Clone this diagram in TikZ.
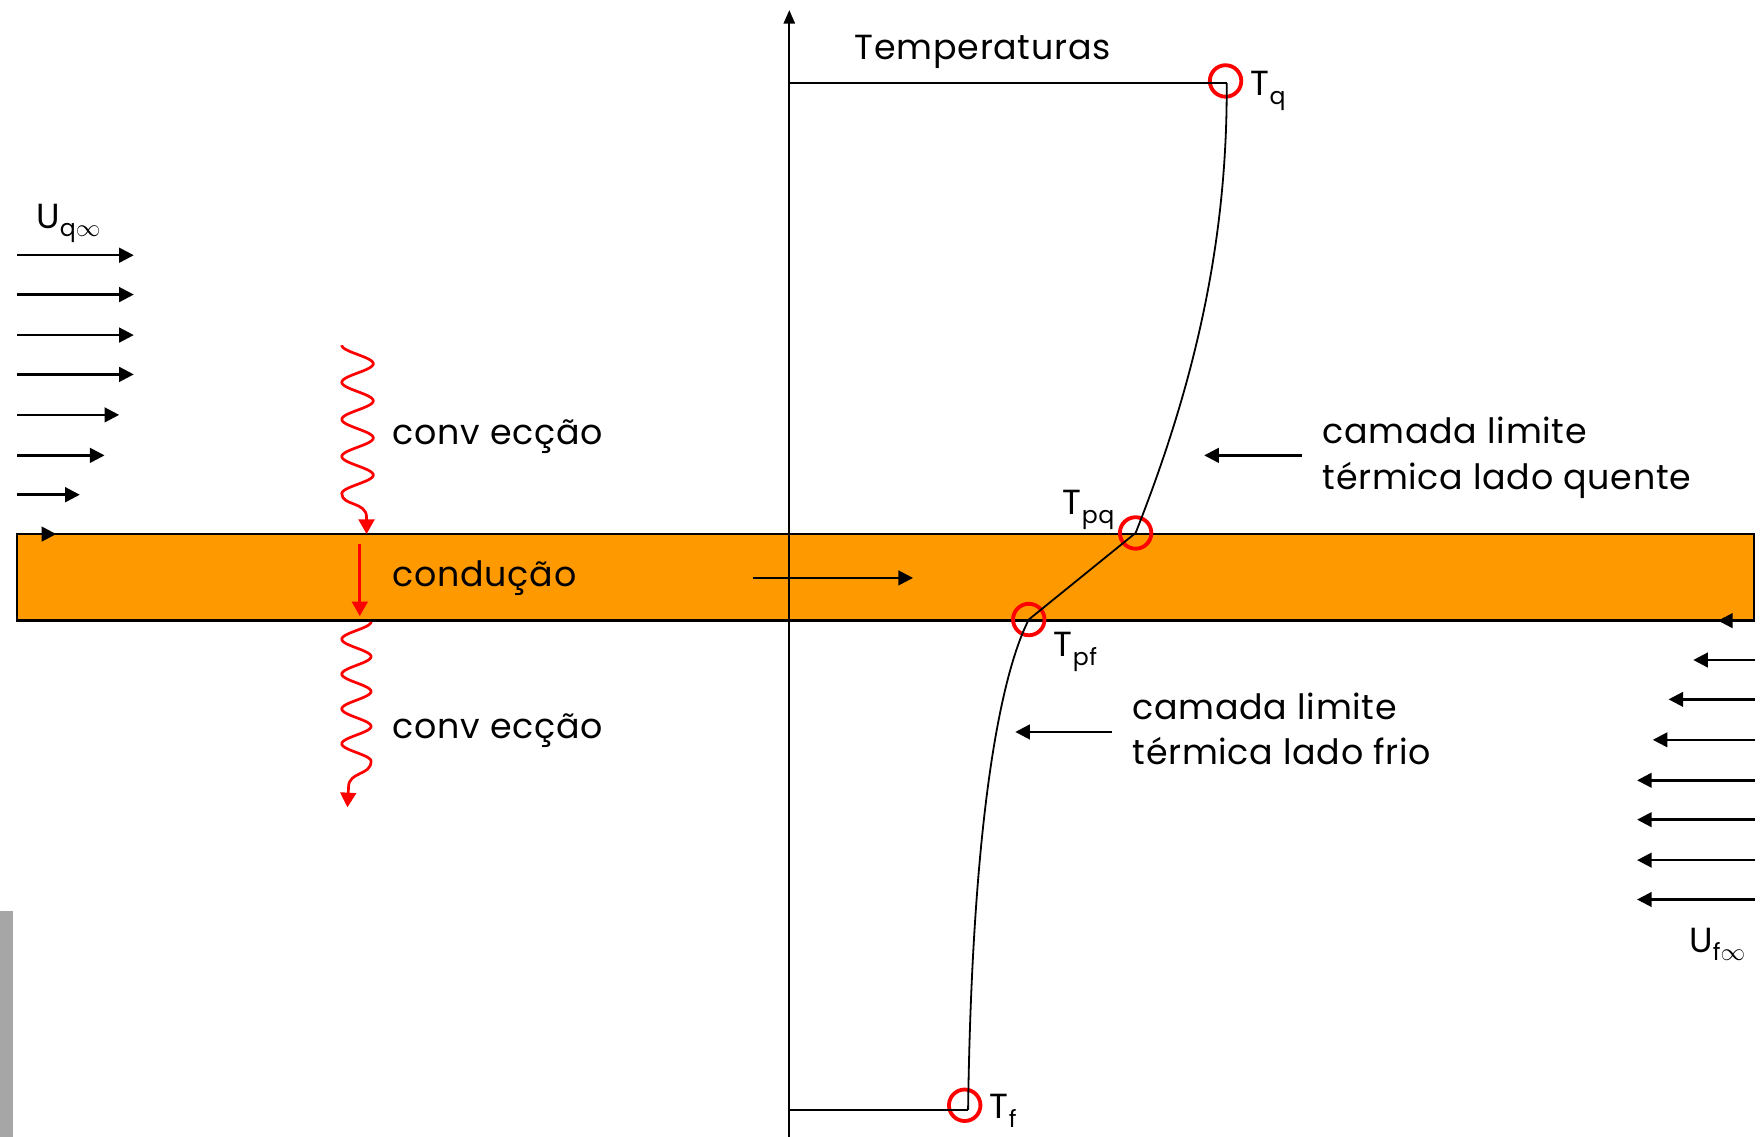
\documentclass[tikz,border=0pt]{standalone}
\usepackage{fontspec}
\setmainfont{Poppins}[LetterSpace=2]
\usetikzlibrary{arrows.meta}
\definecolor{barorange}{RGB}{255,153,0}
\definecolor{pured}{RGB}{255,0,0}
\newcommand\subtx[1]{\raisebox{-0.45ex}{\fontsize{10.5}{10.5}\selectfont #1}}
\begin{document}
\begin{tikzpicture}[x=0.5pt,y=-0.5pt,
  txt/.style={font=\fontsize{15.5}{18}\selectfont, inner sep=0pt, anchor=base west},
  flow/.style={line width=1.1pt, -{Triangle[length=6.5pt,width=6.5pt]}},
  heat/.style={draw=pured, line width=1.2pt, -{Triangle[length=6.5pt,width=7pt]}, fill=none},
  tcirc/.style={circle, draw=pured, line width=1.7pt, minimum size=14pt, inner sep=0pt},
  prof/.style={line width=0.8pt},
  ]
\useasboundingbox (0,0) rectangle (1568,1011);
% gray artifact at the lower left
\fill[gray!70] (0,810) rectangle (12,1011);
% wall
\draw[fill=barorange, line width=1.2pt] (15,475) rectangle (1560,552);
% axis
\coordinate (axb) at (702,1011);
\coordinate (axt) at (702,9);
\draw[line width=0.9pt, -{Triangle[length=6pt,width=5pt]}] (axb) -- (axt);
\node[txt] (temp) at (760,53) {Temperaturas};
% temperature profile
\coordinate (tqc) at (1091,74);
\coordinate (tfc) at (861,987);
\coordinate (axq) at (702,74);
\coordinate (axf) at (702,987);
\node[tcirc] (Tq) at (1090,72) {};
\node[tcirc] (Tpq) at (1010,474) {};
\node[tcirc] (Tpf) at (915,551) {};
\node[tcirc] (Tf) at (858,983) {};
\draw[line width=1pt] (axq) -- (tqc);
\draw[line width=1pt] (axf) -- (tfc);
\draw[prof] (tqc) .. controls (1092,230) and (1055,360) .. (Tpq.center)
  -- (Tpf.center) .. controls (895,590) and (865,700) .. (tfc);
\node[txt] (lTq) at (1112,85) {T\subtx{q}};
\node[txt] (lTpq) at (945,458) {T\subtx{pq}};
\node[txt] (lTpf) at (937,584) {T\subtx{pf}};
\node[txt] (lTf) at (880,995) {T\subtx{f}};
% flow arrows, hot side
\node[txt] (lUq) at (32,203) {U\subtx{q$\infty$}};
\foreach \yy/\xe in {227/119,262/119,298/119,333/119,369/106,405/93,440/71,475/50}{
  \coordinate (ls\yy) at (15,\yy);
  \coordinate (le\yy) at (\xe,\yy);
  \draw[flow] (ls\yy) -- (le\yy);
}
% flow arrows, cold side
\node[txt] (lUf) at (1502,847) {U\subtx{f$\infty$}};
\foreach \yy/\xe in {552/1528,587/1506,622/1484,658/1470,694/1456,729/1456,765/1456,800/1456}{
  \coordinate (rs\yy) at (1561,\yy);
  \coordinate (re\yy) at (\xe,\yy);
  \draw[flow] (rs\yy) -- (re\yy);
}
% heat flow
\coordinate (c1e) at (326,475);
\draw[heat] plot[domain=307:439, samples=140] ({318-14*cos((\x-307)*10.909)}, \x)
  .. controls (304,450) and (326,446) .. (326,460) -- (c1e);
\node[txt] (conv1) at (349,395) {conv ecção};
\coordinate (k1s) at (320,484);
\coordinate (k1e) at (320,548);
\draw[heat] (k1s) -- (k1e);
\node[txt] (cond) at (349,522) {condução};
\coordinate (ws) at (670,514);
\coordinate (we) at (812,514);
\draw[flow] (ws) -- (we);
\coordinate (c2e) at (309,718);
\draw[heat] plot[domain=553:677, samples=140] ({317+13*cos((\x-553)*11.613)}, \x)
  .. controls (330,690) and (310,686) .. (310,700) -- (c2e);
\node[txt] (conv2) at (349,657) {conv ecção};
% boundary layer annotations
\coordinate (hs) at (1158,405);
\coordinate (he) at (1071,405);
\draw[flow] (hs) -- (he);
\node[txt] (hot1) at (1176,394) {camada limite};
\node[txt] (hot2) at (1176,435) {térmica lado quente};
\coordinate (cs) at (989,651);
\coordinate (ce) at (903,651);
\draw[flow] (cs) -- (ce);
\node[txt] (cold1) at (1007,640) {camada limite};
\node[txt] (cold2) at (1007,680) {térmica lado frio};
\end{tikzpicture}
\end{document}
